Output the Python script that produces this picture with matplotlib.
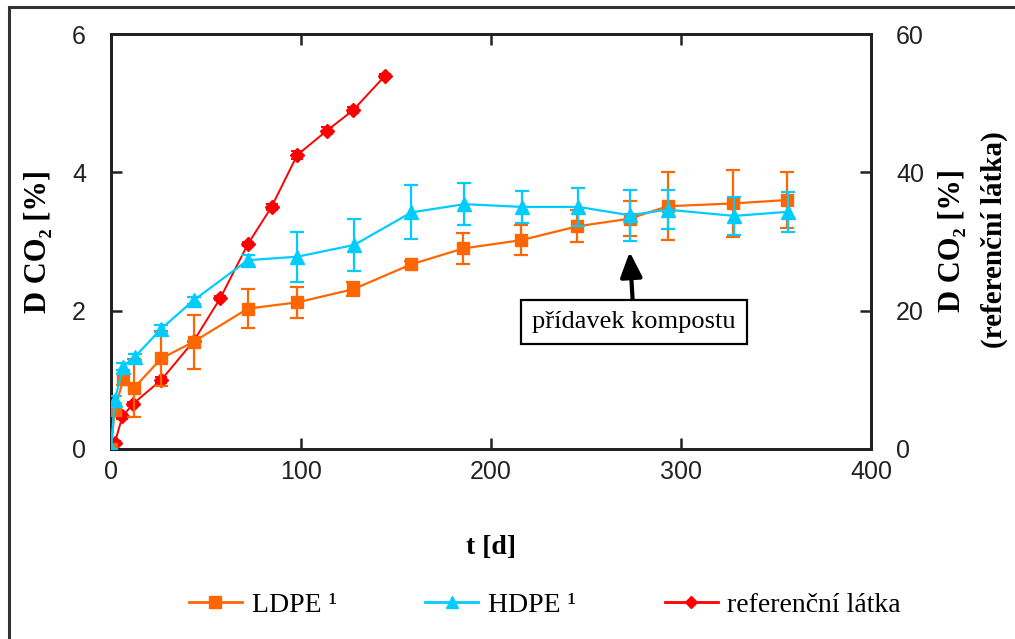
import matplotlib
matplotlib.use("Agg")
import matplotlib.pyplot as plt
from matplotlib import font_manager
from matplotlib.lines import Line2D

# --- data -------------------------------------------------------------
t_ldpe = [0, 2, 6.5, 12, 26.5, 43.5, 72, 98, 127.5, 158, 185.5, 216, 245.5, 273, 293, 327.5, 356]
ldpe = [0, 0.57, 1.01, 0.88, 1.31, 1.55, 2.03, 2.12, 2.31, 2.67, 2.90, 3.02, 3.22, 3.33, 3.51, 3.55, 3.60]
ldpe_err = [0, 0.05, 0.08, 0.42, 0.40, 0.39, 0.28, 0.22, 0.10, 0.05, 0.23, 0.22, 0.23, 0.25, 0.49, 0.49, 0.40]

t_hdpe = [0, 2, 6.5, 12.5, 26.5, 43.5, 72, 98, 128, 158, 186, 216.5, 246, 273, 293, 328, 356.5]
hdpe = [0, 0.71, 1.19, 1.33, 1.74, 2.15, 2.73, 2.78, 2.95, 3.42, 3.54, 3.50, 3.50, 3.38, 3.46, 3.37, 3.43]
hdpe_err = [0, 0.05, 0.05, 0.05, 0.05, 0.05, 0.08, 0.36, 0.38, 0.39, 0.30, 0.23, 0.27, 0.37, 0.28, 0.28, 0.29]

t_ref = [0, 2, 6, 11.5, 26.5, 43.5, 57.5, 72, 84.5, 98, 113.5, 127.5, 144]
ref = [0.3, 0.9, 4.7, 6.5, 10.0, 15.6, 21.8, 29.6, 35.0, 42.5, 46.0, 49.0, 53.9]
ref_err = [0.2, 0.2, 0.3, 0.3, 0.4, 0.3, 0.3, 0.3, 0.4, 0.6, 0.5, 0.4, 0.3]

x_ticks = [0, 100, 200, 300, 400]
y_ticks = [0, 2, 4, 6]
y2_ticks = [0, 20, 40, 60]

labels = ["LDPE ¹", "HDPE ¹", "referenční látka"]
note_text = "přídavek kompostu"
note_t, note_y = 273, 2.85

# --- fonts ------------------------------------------------------------
installed = {f.name for f in font_manager.fontManager.ttflist}
tick_family = "Liberation Sans Narrow" if "Liberation Sans Narrow" in installed else "Liberation Sans"
serif = "Liberation Serif"

c_ldpe = "#FF6600"
c_hdpe = "#00CCFF"
c_ref = "#FF0000"
axis_col = "#222222"

fig = plt.figure(figsize=(10.15, 6.39), dpi=100)
ax = fig.add_axes([111 / 1015, 1 - 449 / 639, 760 / 1015, 415 / 639])
ax2 = ax.twinx()

eb_kw = dict(elinewidth=1.6, capsize=5, capthick=1.6, lw=1.6)
ax.errorbar(t_ldpe, ldpe, yerr=ldpe_err, color=c_ldpe, marker="s", ms=9, zorder=3, **eb_kw)
ax.errorbar(t_hdpe, hdpe, yerr=hdpe_err, color=c_hdpe, marker="^", ms=10, zorder=4, **eb_kw)
ax2.errorbar(t_ref, ref, yerr=ref_err, color=c_ref, marker="D", ms=7, zorder=5,
             elinewidth=1.4, capsize=4, capthick=1.4, lw=1.4)

ax.set_xlim(0, 400)
ax.set_ylim(0, 6)
ax2.set_ylim(0, 60)
ax.set_xticks(x_ticks)
ax.set_yticks(y_ticks)
ax2.set_yticks(y2_ticks)

for a in (ax, ax2):
    for s in a.spines.values():
        s.set_linewidth(2)
        s.set_color(axis_col)
    a.tick_params(direction="in", length=8, width=1.8, color=axis_col,
                  labelsize=18, pad=12)
    for lab in a.get_xticklabels() + a.get_yticklabels():
        lab.set_fontfamily(tick_family)
        lab.set_color("#222222")
ax.tick_params(axis="x", top=True, pad=8)
ax.tick_params(axis="y", pad=18)
ax2.tick_params(axis="y", pad=18)
ax.set_zorder(ax2.get_zorder() + 1)
ax.patch.set_visible(False)

ax.set_xlabel("t [d]", fontfamily=serif, fontweight="bold", fontsize=20, labelpad=37)
ax.set_ylabel("D CO₂ [%]", fontfamily=serif, fontweight="bold", fontsize=22, labelpad=14)

fig.text(952 / 1015, 1 - 240 / 639, "D CO₂ [%]", rotation=90, ha="center", va="center",
         fontfamily=serif, fontweight="bold", fontsize=22)
fig.text(994 / 1015, 1 - 240 / 639, "(referenční látka)", rotation=90, ha="center", va="center",
         fontfamily=serif, fontweight="bold", fontsize=21)

# annotation box with arrow
ax.annotate(note_text, xy=(note_t, note_y), xycoords="data",
            xytext=(634 / 1015, 1 - 322 / 639), textcoords="figure fraction",
            ha="center", va="center", fontfamily=serif, fontsize=19,
            bbox=dict(boxstyle="square,pad=0.42", fc="white", ec="black", lw=1.6),
            arrowprops=dict(arrowstyle="-|>,head_length=0.8,head_width=0.35",
                            color="black", lw=3, shrinkA=0, shrinkB=0))

# legend below the axes
handles = [
    Line2D([], [], color=c_ldpe, marker="s", ms=8, lw=2),
    Line2D([], [], color=c_hdpe, marker="^", ms=9, lw=2),
    Line2D([], [], color=c_ref, marker="D", ms=6, lw=2),
]
fig.legend(handles, labels, loc="center", bbox_to_anchor=(545 / 1015, 1 - 605 / 639),
           ncol=3, frameon=False, handlelength=1.9, handletextpad=0.35, columnspacing=3.2,
           prop=dict(family=serif, size=20))

# outer frame lines
fig.add_artist(Line2D([9 / 1015, 9 / 1015], [0, 1 - 7 / 639], transform=fig.transFigure,
                      color="#333333", lw=2.2))
fig.add_artist(Line2D([9 / 1015, 1], [1 - 7 / 639, 1 - 7 / 639], transform=fig.transFigure,
                      color="#333333", lw=2.2))

fig.savefig("out.png", dpi=100, facecolor="white")
